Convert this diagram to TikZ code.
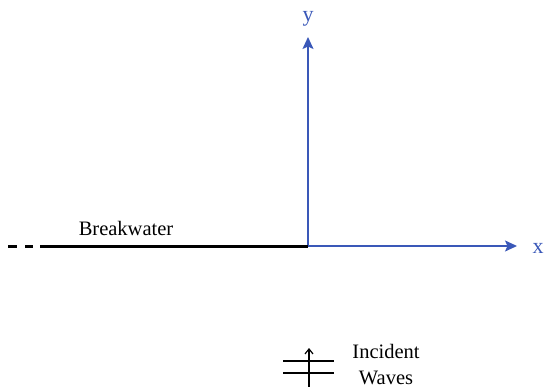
\documentclass[tikz,border=0pt]{standalone}
\usepackage{fontspec}
\setmainfont{Liberation Serif}
\usetikzlibrary{arrows.meta}
\definecolor{axisblue}{RGB}{58,88,184}
\tikzset{
  axis/.style={axisblue, line width=1.5pt, -{Stealth[length=12pt,width=11pt,inset=2.5pt]}},
  axlabel/.style={axisblue, font=\fontsize{22}{25}\selectfont, anchor=base, inner sep=0pt},
  label/.style={font=\fontsize{20.5}{24}\selectfont, anchor=base, inner sep=0pt},
  wall/.style={black, line width=3pt},
  wave/.style={black, line width=1.2pt},
}
\begin{document}
\begin{tikzpicture}[x=1pt,y=-1pt]
\useasboundingbox (0,0) rectangle (545,387);
% axes
\coordinate (O) at (308,246);
\coordinate (ytip) at (308,37);
\coordinate (xtip) at (517,246);
\node[axlabel] (ylab) at (308,22) {y};
\node[axlabel] (xlab) at (538,253) {x};
\draw[axis] (O) -- (ytip);
\draw[axis] (O) -- (xtip);
% breakwater
\coordinate (bw) at (40,246);
\coordinate (d1a) at (8,246);
\coordinate (d1b) at (17,246);
\coordinate (d2a) at (25,246);
\coordinate (d2b) at (33,246);
\draw[wall] (bw) -- (O);
\draw[wall] (d1a) -- (d1b);
\draw[wall] (d2a) -- (d2b);
\node[label] (bwlab) at (126,235) {Breakwater};
% incident waves
\coordinate (w1l) at (283,361);
\coordinate (w1r) at (334,361);
\coordinate (w2l) at (283,373);
\coordinate (w2r) at (334,373);
\coordinate (wb) at (309,390);
\coordinate (wt) at (309,348);
\draw[wave] (w1l) -- (w1r);
\draw[wave] (w2l) -- (w2r);
\draw[wave, -{Straight Barb[length=5pt,width=8pt]}] (wb) -- (wt);
\node[label] (inc) at (386,358) {Incident};
\node[label] (wav) at (386,384) {Waves};
\end{tikzpicture}
\end{document}
